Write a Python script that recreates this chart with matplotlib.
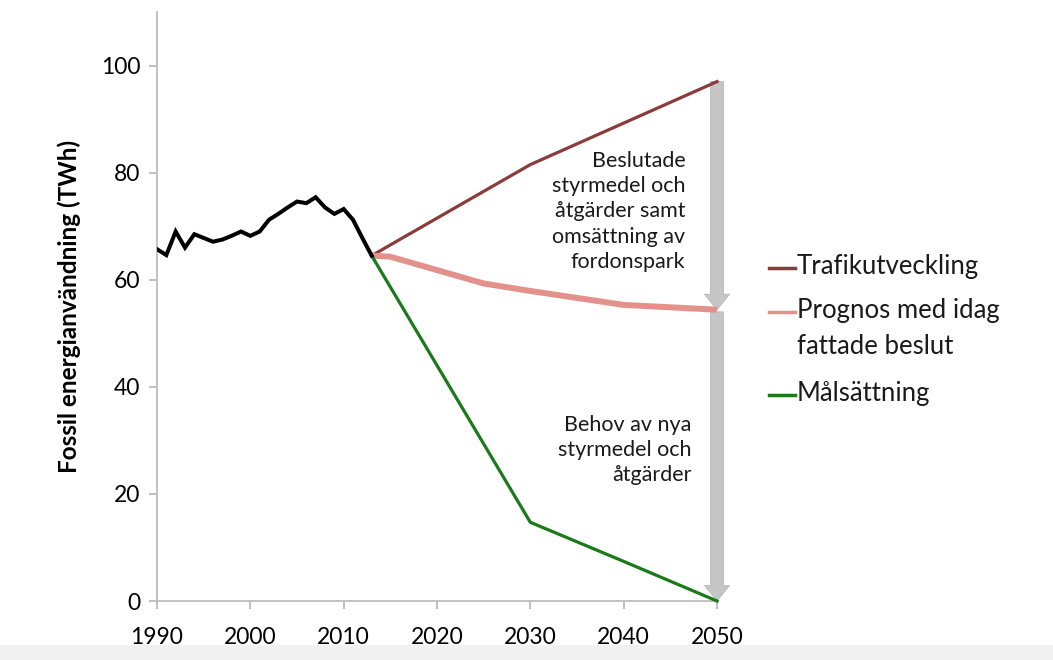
import matplotlib.pyplot as plt
from matplotlib.lines import Line2D
from matplotlib.patches import FancyArrow, Rectangle

plt.rcParams['font.family'] = ['Lato', 'DejaVu Sans']

# historical use 1990-2013
hist_years = list(range(1990, 2014))
hist_values = [65.7, 64.6, 69.0, 66.0, 68.5, 67.8, 67.1, 67.5, 68.2, 69.0,
               68.2, 69.0, 71.2, 72.3, 73.5, 74.6, 74.3, 75.4, 73.5, 72.3,
               73.2, 71.2, 67.8, 64.5]

# scenarios
trafik_years = [2013, 2030, 2050]
trafik_values = [64.5, 81.5, 97.0]

prognos_years = [2013, 2015, 2020, 2025, 2030, 2035, 2040, 2050]
prognos_values = [64.5, 64.3, 61.8, 59.3, 57.9, 56.6, 55.3, 54.4]

mal_years = [2013, 2030, 2040, 2050]
mal_values = [64.5, 14.7, 7.4, 0.0]

series_labels = ['Trafikutveckling', 'Prognos med idag\nfattade beslut', 'Målsättning']
series_colors = ['#8c3b3b', '#e4918b', '#1a7a1a']

text_top = 'Beslutade\nstyrmedel och\nåtgärder samt\nomsättning av\nfordonspark'
text_bottom = 'Behov av nya\nstyrmedel och\nåtgärder'

x_ticks = [1990, 2000, 2010, 2020, 2030, 2040, 2050]
y_ticks = [0, 20, 40, 60, 80, 100]

fig = plt.figure(figsize=(10.53, 6.6), dpi=100)
# light band along the bottom edge
fig.patches.append(Rectangle((0, 0), 1, 15 / 660, transform=fig.transFigure,
                             facecolor='#f1f1f1', edgecolor='none', zorder=0))
ax = fig.add_axes([157 / 1053, 59 / 660, 560 / 1053, 589 / 660])

# gray arrows at 2050
arrow_kw = dict(width=1.4, head_width=2.7, head_length=2.9, length_includes_head=True,
                facecolor='#c6c6c6', edgecolor='#b8b8b8', linewidth=0.6,
                clip_on=False, zorder=1)
ax.add_patch(FancyArrow(2050, trafik_values[-1], 0, prognos_values[-1] - trafik_values[-1], **arrow_kw))
ax.add_patch(FancyArrow(2050, prognos_values[-1] - 0.4, 0, mal_values[-1] - prognos_values[-1] + 0.4, **arrow_kw))

ax.plot(trafik_years, trafik_values, color=series_colors[0], lw=2.3, zorder=3, clip_on=False)
ax.plot(prognos_years, prognos_values, color=series_colors[1], lw=4.3, zorder=3, clip_on=False,
        solid_capstyle='butt')
ax.plot(mal_years, mal_values, color=series_colors[2], lw=2.3, zorder=3, clip_on=False)
ax.plot(hist_years, hist_values, color='black', lw=2.9, zorder=4, solid_joinstyle='miter')

ax.text(2046.6, 84.0, text_top, ha='right', va='top', fontsize=15.5, linespacing=1.32, color='#1a1a1a')
ax.text(2047.3, 34.8, text_bottom, ha='right', va='top', fontsize=15.5, linespacing=1.32, color='#1a1a1a')

ax.set_xlim(1990, 2050)
ax.set_ylim(0, 110)
ax.set_xticks(x_ticks)
ax.set_yticks(y_ticks)
ax.tick_params(axis='both', labelsize=16.5, color='#b5b5b5', width=1.2, length=6, pad=6)
ax.tick_params(axis='x', pad=13)
for side in ['top', 'right']:
    ax.spines[side].set_visible(False)
for side in ['left', 'bottom']:
    ax.spines[side].set_color('#bdbdbd')
    ax.spines[side].set_linewidth(1.3)
ax.set_ylabel('Fossil energianvändning (TWh)', fontsize=17.5, fontweight='bold', labelpad=14)

# legend drawn beside the plot, one text per line
legend_y = [268, 312, 395]
for label, color, py in zip(series_labels, series_colors, legend_y):
    yf = 1 - py / 660
    fig.add_artist(Line2D([769 / 1053, 795 / 1053], [yf, yf], color=color, lw=2.5,
                          transform=fig.transFigure))
    for i, line in enumerate(label.split('\n')):
        fig.text(797 / 1053, yf - i * 36 / 660 + 0.002, line, ha='left', va='center',
                 fontsize=18.5, color='#1a1a1a')

fig.savefig('out.png', dpi=100)
